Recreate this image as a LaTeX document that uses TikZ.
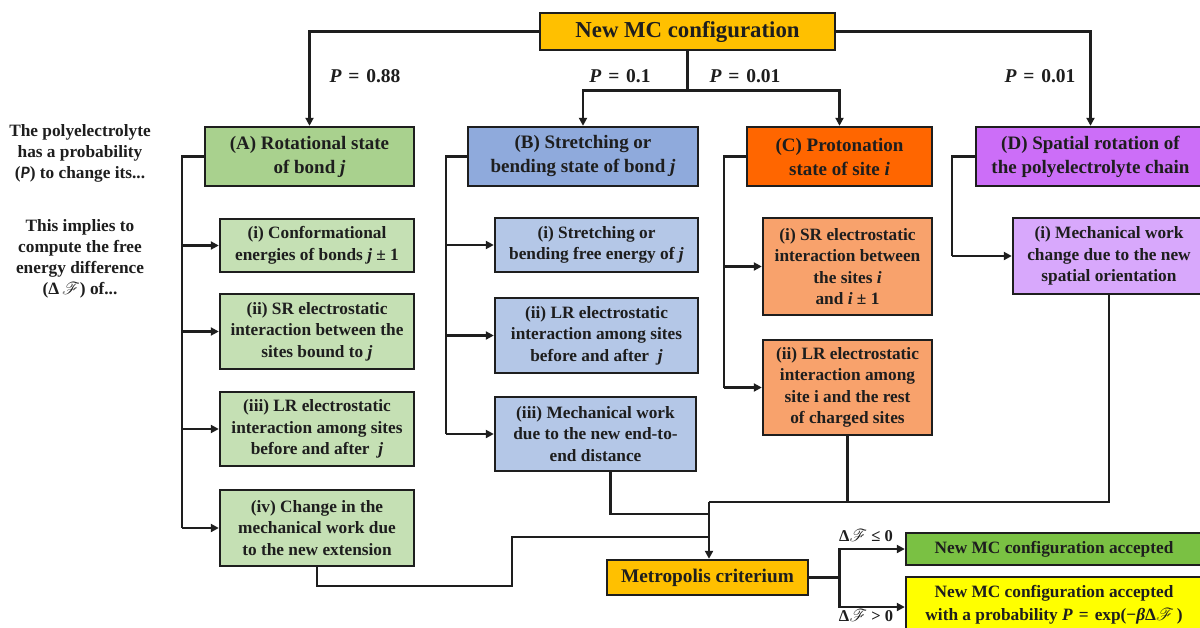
\documentclass[tikz,border=0pt]{standalone}
\usepackage{amsmath}
\usepackage{mathrsfs}
\usepackage{fontspec}
\setmainfont{Liberation Serif}
\newfontfamily\calib{Carlito}
\usetikzlibrary{arrows.meta}
\definecolor{cTop}{HTML}{FFC000}
\definecolor{cA}{HTML}{A9D18E}
\definecolor{cAs}{HTML}{C5E0B4}
\definecolor{cB}{HTML}{8FAADC}
\definecolor{cBs}{HTML}{B4C7E7}
\definecolor{cC}{HTML}{FF6600}
\definecolor{cCs}{HTML}{F8A26C}
\definecolor{cD}{HTML}{CC6EF8}
\definecolor{cDs}{HTML}{D8A8FC}
\definecolor{cOK}{HTML}{7AC143}
\definecolor{cYe}{HTML}{FFFF00}
\definecolor{ink}{HTML}{1E1E1E}
\newcommand{\vi}[1]{\textit{#1}}
\newcommand{\sF}{$\mathscr{F}$}
\newcommand{\eqs}{\hspace{0.35em}=\hspace{0.35em}}
\tikzset{
  bx/.style={draw=ink, line width=2.4pt, align=center, text=ink, inner sep=1pt},
  hd/.style={bx, font=\fontsize{19}{24}\selectfont\bfseries},
  sb/.style={bx, font=\fontsize{17.3}{21.5}\selectfont\bfseries},
  ln/.style={line width=2.6pt, draw=ink},
  arr/.style={ln, -{Triangle[length=8pt,width=8pt]}},
  lbl/.style={text=ink, font=\fontsize{16.5}{20}\selectfont\bfseries},
  plbl/.style={text=ink, font=\fontsize{19.5}{22}\selectfont\bfseries},
  side/.style={text=ink, align=center, font=\fontsize{17.3}{21}\selectfont\bfseries},
}
\begin{document}
\begin{tikzpicture}[x=1pt,y=-1pt]
\clip (0,0) rectangle (1200,627);
\fill[white] (0,0) rectangle (1200,627);

% top
\node[bx, fill=cTop, minimum width=295pt, minimum height=37pt, font=\fontsize{22.8}{26}\selectfont\bfseries] (top) at (687.5,31.5) {New MC configuration};

% main boxes
\node[hd, fill=cA, minimum width=209pt, minimum height=59pt] (A) at (309.5,156.5) {(A) Rotational state\\of bond \vi{j}};
\node[hd, fill=cB, minimum width=230pt, minimum height=59pt] (B) at (583,156.5) {(B) Stretching or\\bending state of bond \vi{j}};
\node[hd, fill=cC, minimum width=185pt, minimum height=59pt] (C) at (839.5,156.5) {(C) Protonation\\state of site \vi{i}};
\node[hd, fill=cD, minimum width=229pt, minimum height=59pt] (D) at (1090.5,156.5) {(D) Spatial rotation of\\the polyelectrolyte chain};

% A subs
\node[sb, fill=cAs, minimum width=194pt, minimum height=53pt] (Ai) at (317,245.5) {(i) Conformational\\energies of bonds \vi{j} ± 1};
\node[sb, fill=cAs, minimum width=194pt, minimum height=75pt] (Aii) at (317,331.5) {(ii) SR electrostatic\\interaction between the\\sites bound to \vi{j}};
\node[sb, fill=cAs, minimum width=194pt, minimum height=74pt] (Aiii) at (317,429) {(iii) LR electrostatic\\interaction among sites\\before and after~ \vi{j}};
\node[sb, fill=cAs, minimum width=194pt, minimum height=76pt] (Aiv) at (317,528) {(iv) Change in the\\mechanical work due\\to the new extension};

% B subs
\node[sb, fill=cBs, minimum width=203pt, minimum height=54pt] (Bi) at (596.5,245) {(i) Stretching or\\bending free energy of \vi{j}};
\node[sb, fill=cBs, minimum width=203pt, minimum height=75pt] (Bii) at (596.5,335.5) {(ii) LR electrostatic\\interaction among sites\\before and after~ \vi{j}};
\node[sb, fill=cBs, minimum width=201pt, minimum height=74pt] (Biii) at (595.5,434) {(iii) Mechanical work\\due to the new end-to-\\end distance};

% C subs
\node[sb, fill=cCs, minimum width=169pt, minimum height=97pt] (Ci) at (847.5,266.5) {(i) SR electrostatic\\interaction between\\the sites \vi{i}\\and \vi{i} ± 1};
\node[sb, fill=cCs, minimum width=169pt, minimum height=95pt] (Cii) at (847.5,387.5) {(ii) LR electrostatic\\interaction among\\site i and the rest\\of charged sites};

% D sub
\node[sb, fill=cDs, minimum width=192pt, minimum height=76pt] (Di) at (1109,256) {(i) Mechanical work\\change due to the new\\spatial orientation};

% bottom
\node[bx, fill=cTop, minimum width=201pt, minimum height=35pt, font=\fontsize{19.3}{22}\selectfont\bfseries] (M) at (707.5,577.5) {Metropolis criterium};
\node[sb, fill=cOK, minimum width=296pt, minimum height=32pt] (G) at (1054,549) {New MC configuration accepted};
\node[sb, fill=cYe, minimum width=296pt, minimum height=56pt, font=\fontsize{17.3}{23.5}\selectfont\bfseries] (Y) at (1054,605) {New MC configuration accepted\\with a probability \vi{P}\eqs exp(−\vi{β}Δ\sF\,)};

% side texts
\node[side] (s1) at (80,153) {The polyelectrolyte\\has a probability\\({\calib\itshape P}) to change its...};
\node[side] (s2) at (80,259) {This implies to\\compute the free\\energy difference\\(Δ\,\sF) of...};

% top connectors
\draw[arr] (top.west) -| (A.north);
\draw[arr] (top.east) -| (D.north);
\draw[ln] (top.south) -- ++(0,39) coordinate (split);
\draw[arr] (split) -| (B.north);
\draw[arr] (split) -| (C.north);

\node[plbl] (p1) at (365,76) {\vi{P}\eqs 0.88};
\node[plbl] (p2) at (620,76) {\vi{P}\eqs 0.1};
\node[plbl] (p3) at (745,76) {\vi{P}\eqs 0.01};
\node[plbl] (p4) at (1040,76) {\vi{P}\eqs 0.01};

% brackets
\draw[ln] (A.west) -- ++(-22,0) coordinate (ab) -- (ab |- Aiv.west);
\foreach \n in {Ai,Aii,Aiii,Aiv} \draw[arr] (ab |- \n.west) -- (\n.west);
\draw[ln] (B.west) -- ++(-21,0) coordinate (bb) -- (bb |- Biii.west);
\foreach \n in {Bi,Bii,Biii} \draw[arr] (bb |- \n.west) -- (\n.west);
\draw[ln] (C.west) -- ++(-22,0) coordinate (cb) -- (cb |- Cii.west);
\foreach \n in {Ci,Cii} \draw[arr] (cb |- \n.west) -- (\n.west);
\draw[ln] (D.west) -- ++(-23,0) coordinate (db) -- (db |- Di.west);
\draw[arr] (db |- Di.west) -- (Di.west);

% merge into Metropolis
\coordinate (m1) at (709,502);
\coordinate (m2) at (709,514);
\coordinate (m3) at (709,537);
\draw[ln] (Di.south) |- (m1);
\draw[ln] (Cii.south) -- (Cii.south |- m1);
\draw[ln] ([xshift=15pt]Biii.south) |- (m2);
\coordinate (a1) at (512,586);
\draw[ln] (Aiv.south) |- (a1) |- (m3);
\draw[arr] (m1) -- (m1 |- M.north);

% Metropolis split
\draw[ln] (M.east) -- ++(30,0) coordinate (ms);
\draw[arr] (ms) |- (G.west);
\draw[arr] (ms) |- ([yshift=-2pt]Y.west);
\node[lbl] (l1) at (866,536) {Δ\sF\ ≤ 0};
\node[lbl] (l2) at (866,616) {Δ\sF\ > 0};
\end{tikzpicture}
\end{document}
